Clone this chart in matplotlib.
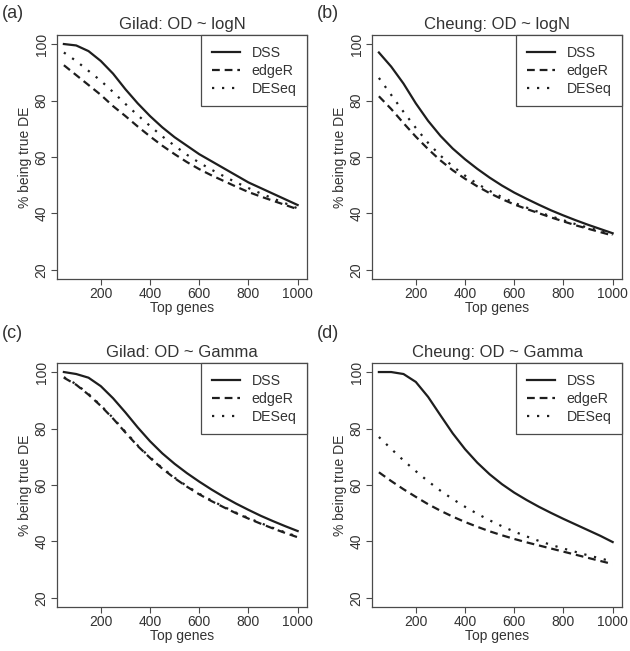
import matplotlib
matplotlib.use("Agg")
import matplotlib.pyplot as plt

plt.rcParams['font.family'] = ['Liberation Sans', 'DejaVu Sans']

top_genes = [50, 100, 150, 200, 250, 300, 350, 400, 450, 500,
             550, 600, 650, 700, 750, 800, 850, 900, 950, 1000]

# (a) Gilad: OD ~ logN
a_dss = [100, 99.5, 97.5, 94, 89.5, 84, 79, 74.5, 70.5, 67, 64, 61, 58.5, 56, 53.5, 51, 49, 47, 45, 43]
a_edger = [92.5, 89, 85.5, 82, 78, 74.5, 70.8, 67.3, 64, 61, 58.2, 55.7, 53.5, 51.5, 49.5, 47.6, 46, 44.5, 43, 41.5]
a_deseq = [97, 94, 90.5, 87, 83, 78.8, 74.8, 71, 67.3, 64, 60.8, 58, 55.5, 53.2, 51, 49, 47.1, 45.3, 43.6, 41.8]

# (b) Cheung: OD ~ logN
b_dss = [97, 92, 86, 79, 72.8, 67.5, 63, 59.2, 55.8, 52.7, 49.9, 47.4, 45.2, 43.1, 41.1, 39.3, 37.6, 36, 34.5, 33]
b_edger = [81.5, 77, 72, 67.2, 62.8, 58.8, 55.3, 52.3, 49.6, 47.2, 45.1, 43.2, 41.6, 40.1, 38.6, 37.2, 35.8, 34.6, 33.4, 32.2]
b_deseq = [88, 82, 76, 70.3, 65, 60.5, 56.7, 53.4, 50.5, 48, 45.8, 43.8, 42.1, 40.5, 39, 37.6, 36.2, 35, 33.8, 32.5]

# (c) Gilad: OD ~ Gamma
c_dss = [100, 99.3, 98, 95, 90.7, 85.7, 80.4, 75.5, 71.2, 67.5, 64.2, 61.2, 58.4, 55.8, 53.4, 51.2, 49.1, 47.2, 45.4, 43.7]
c_edger = [98, 95.5, 92, 88, 83.5, 78.6, 73.8, 69.6, 65.8, 62.4, 59.4, 56.7, 54.3, 52.1, 50, 48.1, 46.3, 44.6, 43, 41.5]
c_deseq = [98.2, 95.7, 92.2, 88.2, 83.7, 78.8, 74, 69.8, 66, 62.6, 59.6, 56.9, 54.5, 52.3, 50.2, 48.3, 46.5, 44.8, 43.2, 41.7]

# (d) Cheung: OD ~ Gamma
d_dss = [100, 100, 99.3, 96.5, 91.2, 84.7, 78.3, 72.7, 67.9, 63.8, 60.3, 57.3, 54.7, 52.3, 50.1, 48, 46, 44, 42, 39.8]
d_edger = [64.5, 61.4, 58.5, 55.8, 53.2, 50.9, 48.8, 46.9, 45.2, 43.6, 42.2, 40.9, 39.7, 38.6, 37.5, 36.4, 35.3, 34.2, 33.1, 32]
d_deseq = [77, 72.8, 68.7, 64.9, 61.3, 58, 55, 52.3, 49.8, 47.5, 45.4, 43.5, 41.8, 40.2, 38.8, 37.5, 36.3, 35.1, 34, 32.9]

panels = [
    ("(a)", "Gilad: OD ~ logN", a_dss, a_edger, a_deseq),
    ("(b)", "Cheung: OD ~ logN", b_dss, b_edger, b_deseq),
    ("(c)", "Gilad: OD ~ Gamma", c_dss, c_edger, c_deseq),
    ("(d)", "Cheung: OD ~ Gamma", d_dss, d_edger, d_deseq),
]
methods = ["DSS", "edgeR", "DESeq"]

W, H = 630, 651
fig = plt.figure(figsize=(W / 100, H / 100), dpi=100)

# axes boxes in pixels: left, top, right, bottom ; panel-letter y
boxes = [(57, 35, 307, 279, 13), (372, 35, 622, 279, 13),
         (57, 363, 307, 607, 333), (372, 363, 622, 607, 333)]

ink = "#1e1e1e"
frame = "#4a4a4a"
txt = "#333333"

for (lab, title, dss, edger, deseq), (l, t, r, b, ly) in zip(panels, boxes):
    ax = fig.add_axes([l / W, 1 - b / H, (r - l) / W, (b - t) / H])
    ax.plot(top_genes, dss, color=ink, lw=1.6, ls="-", label=methods[0])
    ax.plot(top_genes, edger, color=ink, lw=1.6, dashes=(3.5, 2.2), label=methods[1])
    ax.plot(top_genes, deseq, color=ink, lw=1.6, dashes=(1, 3.5), label=methods[2])
    ax.set_xlim(22, 1038)
    ax.set_ylim(16.8, 103.2)
    ax.set_xticks([200, 400, 600, 800, 1000])
    ax.set_yticks([20, 40, 60, 80, 100])
    ax.tick_params(direction="out", length=4, width=0.8, color=frame,
                   labelsize=10, labelcolor=txt, pad=2)
    for lbl in ax.get_yticklabels():
        lbl.set_rotation(90)
        lbl.set_va("center")
    for sp in ax.spines.values():
        sp.set_color(frame)
        sp.set_linewidth(0.9)
    ax.set_xlabel("Top genes", fontsize=10, color=txt, labelpad=0)
    ax.set_ylabel("% being true DE", fontsize=10, color=txt, labelpad=2)
    ax.set_title(title, fontsize=12, color=txt, pad=4)
    leg = ax.legend(loc="upper right", borderaxespad=0, fontsize=10.2,
                    handlelength=2.0, labelspacing=0.28, handletextpad=0.8,
                    borderpad=0.75, fancybox=False, framealpha=1)
    leg.get_frame().set_edgecolor(frame)
    leg.get_frame().set_linewidth(0.9)
    for tx in leg.get_texts():
        tx.set_color(txt)
    fig.text((l - 55) / W, 1 - ly / H, lab, fontsize=13, color=txt,
             ha="left", va="center")

fig.savefig("out.png", dpi=100)
